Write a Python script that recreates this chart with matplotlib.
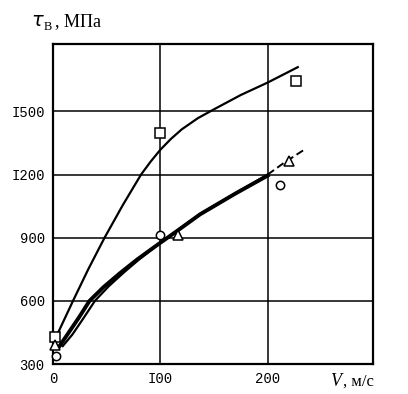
import matplotlib
matplotlib.use("Agg")
import matplotlib.pyplot as plt
import numpy as np

# Data
sq_v = [2, 100, 226]
sq_t = [430, 1395, 1645]
ci_v = [3, 100, 211]
ci_t = [340, 915, 1152]
tr_v = [2, 116, 220]
tr_t = [390, 912, 1265]

# curves
curve_sq_v = [3, 18.6, 33, 48, 65, 82, 91, 100, 110, 120, 135, 150, 175, 200, 228]
curve_sq_t = [430, 600, 752, 900, 1055, 1200, 1262, 1318, 1370, 1415, 1468, 1510, 1578, 1637, 1710]
curve_ci_v = [6, 14, 24, 34, 47, 62, 78, 95, 115, 137, 170, 200]
curve_ci_t = [385, 445, 520, 600, 665, 730, 795, 858, 930, 1011, 1110, 1195]
curve_tr_v = [9, 18, 28, 39, 52, 66, 80, 96, 115, 137, 170, 200]
curve_tr_t = [385, 440, 515, 600, 670, 735, 796, 860, 932, 1013, 1112, 1200]
curve_tr_dash_v = [200, 215, 234]
curve_tr_dash_t = [1200, 1255, 1318]

xticks = [0, 100, 200]
xtick_labels = ["0", "I00", "200"]
yticks = [300, 600, 900, 1200, 1500]
ytick_labels = ["300", "600", "900", "I200", "I500"]

fig = plt.figure(figsize=(4.08, 3.94), dpi=100)
ax = fig.add_axes([0.130, 0.0761, 0.784, 0.8122])
ax.set_xlim(0, 298)
ax.set_ylim(300, 1820)

for s in ax.spines.values():
    s.set_linewidth(1.6)
    s.set_color("black")

for x in xticks[1:]:
    ax.axvline(x, color="black", lw=1.1, zorder=1)
for y in yticks[1:]:
    ax.axhline(y, color="black", lw=1.1, zorder=1)

ax.plot(curve_sq_v, curve_sq_t, color="black", lw=1.6, zorder=3, solid_joinstyle="round")
ax.plot(curve_ci_v, curve_ci_t, color="black", lw=2.8, zorder=3, solid_joinstyle="round")
ax.plot(curve_tr_v, curve_tr_t, color="black", lw=1.6, zorder=3, solid_joinstyle="round")
ax.plot(curve_tr_dash_v, curve_tr_dash_t, color="black", lw=1.4, ls=(0, (4, 2)), zorder=3)

ax.plot(sq_v, sq_t, ls="none", marker="s", ms=6.5, mfc="white", mec="black", mew=1.1, zorder=4, clip_on=False)
ax.plot(ci_v, ci_t, ls="none", marker="o", ms=6, mfc="white", mec="black", mew=1.1, zorder=4, clip_on=False)
ax.plot(tr_v, tr_t, ls="none", marker="^", ms=6.5, mfc="white", mec="black", mew=1.1, zorder=4, clip_on=False)

ax.set_xticks(xticks)
ax.set_xticklabels(xtick_labels, family="Liberation Mono", fontsize=10)
ax.set_yticks(yticks)
ax.set_yticklabels(ytick_labels, family="Liberation Mono", fontsize=10)
ax.tick_params(length=0, pad=6)

fig.text(0.075, 0.935, r"$\tau$", fontsize=14, family="DejaVu Serif", style="italic")
fig.text(0.108, 0.925, "В", fontsize=9, family="Liberation Serif")
fig.text(0.135, 0.935, ", МПа", fontsize=13, family="Liberation Serif")
fig.text(0.81, 0.02, "V", fontsize=13, family="Liberation Serif", style="italic")
fig.text(0.84, 0.02, ", м/с", fontsize=12, family="Liberation Serif")

fig.savefig("out.png", dpi=100)
